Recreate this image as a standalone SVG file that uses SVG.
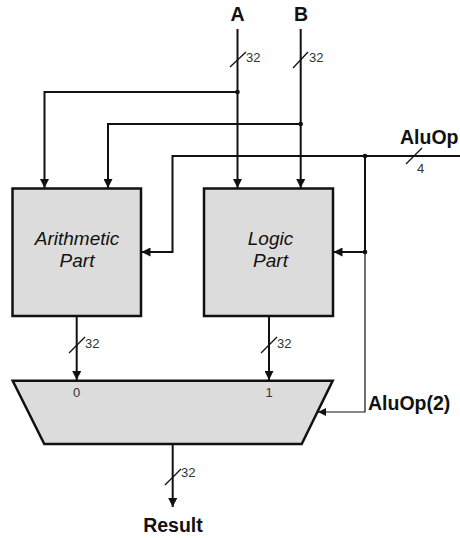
<svg xmlns="http://www.w3.org/2000/svg" width="460" height="538" viewBox="0 0 460 538">
<style>
.w{fill:none;stroke:#111;stroke-width:2}
.t{fill:none;stroke:#111;stroke-width:1.2}
.s{fill:none;stroke:#111;stroke-width:1.3}
.box{fill:#dcdcdc;stroke:#111;stroke-width:2.5}
.lbl{font-family:"Liberation Sans",Arial,sans-serif;font-weight:bold;font-size:19.5px;fill:#111}
.it{font-family:"Liberation Sans",Arial,sans-serif;font-style:italic;font-size:19px;fill:#111;text-anchor:middle}
.n{font-family:"Liberation Sans",Arial,sans-serif;font-size:13px;fill:#333}
</style>
<defs>
<marker id="ah" viewBox="0 0 10 10" refX="10" refY="5" markerWidth="4.5" markerHeight="4.5" orient="auto" markerUnits="strokeWidth"><path d="M0,0L10,5L0,10z" fill="#111"/></marker>
<marker id="ahs" viewBox="0 0 10 10" refX="10" refY="5" markerWidth="7" markerHeight="7" orient="auto" markerUnits="strokeWidth"><path d="M0,0L10,5L0,10z" fill="#111"/></marker>
</defs>
<g id="arith"><rect class="box" x="12.5" y="188.5" width="128.5" height="127.5"/>
<text class="it" x="77" y="245">Arithmetic</text><text class="it" x="77" y="267">Part</text></g>
<g id="logic"><rect class="box" x="204" y="188.5" width="129" height="127.5"/>
<text class="it" x="270.5" y="245">Logic</text><text class="it" x="270.5" y="267">Part</text></g>
<g id="mux"><path class="box" d="M12.7,380.7H332.7L301.7,444H44.3Z"/>
<text class="n" x="76.7" y="397" text-anchor="middle">0</text><text class="n" x="269" y="397" text-anchor="middle">1</text></g>
<g id="labels">
<text class="lbl" x="237.5" y="21" text-anchor="middle">A</text>
<text class="lbl" x="301" y="21" text-anchor="middle">B</text>
<text class="lbl" x="400" y="144">AluOp</text>
<text class="lbl" x="368" y="410">AluOp(2)</text>
<text class="lbl" x="173" y="532" text-anchor="middle">Result</text>
</g>
<g id="connectors">
<path class="w" d="M237.5,29V188" marker-end="url(#ah)"/>
<path class="w" d="M300.7,29V188" marker-end="url(#ah)"/>
<path class="w" d="M237.5,92H44.5V188" marker-end="url(#ah)"/>
<path class="w" d="M300.7,124H108V188" marker-end="url(#ah)"/>
<path class="w" d="M460,156H172.5V252H141.5" marker-end="url(#ah)"/>
<path class="w" d="M365,156V252H333.5" marker-end="url(#ah)"/>
<path class="t" d="M365,252V412H318" marker-end="url(#ahs)"/>
<path class="w" d="M76.7,316V380" marker-end="url(#ah)"/>
<path class="w" d="M269,316V380" marker-end="url(#ah)"/>
<path class="w" d="M172.7,444V507" marker-end="url(#ah)"/>
<circle cx="237.5" cy="92" r="2.3" fill="#111"/>
<circle cx="300.7" cy="124" r="2.3" fill="#111"/>
<circle cx="365" cy="156" r="2.3" fill="#111"/>
<circle cx="365" cy="252" r="2.3" fill="#111"/>
<path class="s" d="M230,67L246,52M293,68L308,52M406,164L422,148M69,353L85,337M261,353L277,337M165,485L181,469"/>
<text class="n" x="246" y="62">32</text>
<text class="n" x="309" y="62">32</text>
<text class="n" x="417" y="173">4</text>
<text class="n" x="85" y="348">32</text>
<text class="n" x="277" y="348">32</text>
<text class="n" x="181" y="477">32</text>
</g>
</svg>
